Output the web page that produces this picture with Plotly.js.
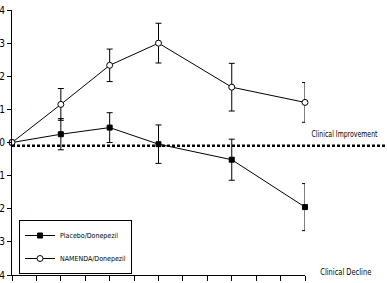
<!DOCTYPE html>
<html>
<head>
<meta charset="utf-8">
<script src="https://cdn.plot.ly/plotly-3.0.1.min.js"></script>
<style>html,body{margin:0;padding:0;background:#fff;}</style>
</head>
<body>
<div id="chart" style="width:387px;height:283px;"></div>
<script>
var weeks = [0, 4, 8, 12, 18, 24];
var placeboValues = [0, 0.25, 0.45, -0.05, -0.52, -1.95];
var placeboErrors = [0, 0.47, 0.45, 0.58, 0.62, 0.71];
var namendaValues = [0, 1.15, 2.33, 3.0, 1.67, 1.21];
var namendaErrors = [0, 0.48, 0.49, 0.6, 0.72, 0.6];
var seriesNames = ["Placebo/Donepezil", "NAMENDA/Donepezil"];
var yTicks = [-4, -3, -2, -1, 0, 1, 2, 3, 4];
var baselineValue = -0.1;
var noteImprovement = "Clinical Improvement";
var noteDecline = "Clinical Decline";

var FONT = "Liberation Sans Narrow, DejaVu Sans Condensed, Arial Narrow, sans-serif";

var traces = [
  {
    x: weeks, y: placeboValues, name: seriesNames[0], type: "scatter", mode: "lines+markers",
    line: {color: "#000", width: 1},
    marker: {symbol: "square", size: 5, color: "#000", line: {color: "#000", width: 1}},
    error_y: {type: "data", array: placeboErrors, visible: true, color: "#000", thickness: 1, width: 3},
    cliponaxis: false, legendgroup: "a"
  },
  {
    x: weeks, y: namendaValues, name: seriesNames[1], type: "scatter", mode: "lines+markers",
    line: {color: "#000", width: 1},
    marker: {symbol: "circle", size: 6, color: "#fff", line: {color: "#000", width: 1}},
    error_y: {type: "data", array: namendaErrors, visible: true, color: "#000", thickness: 1, width: 3},
    cliponaxis: false, legendgroup: "b"
  }
];

var layout = {
  width: 387, height: 283,
  margin: {l: 12, r: 82, t: 10, b: 8, pad: 0},
  paper_bgcolor: "#fff", plot_bgcolor: "#fff",
  font: {family: FONT, size: 10, color: "#000"},
  showlegend: true,
  legend: {
    x: 0.024, y: 0.2075, xanchor: "left", yanchor: "top",
    bgcolor: "#fff", bordercolor: "#000", borderwidth: 1,
    font: {family: FONT, size: 7, color: "#000"},
    traceorder: "grouped", tracegroupgap: 4, itemwidth: 30
  },
  xaxis: {
    range: [0, 24], tickmode: "linear", tick0: 0, dtick: 2,
    showticklabels: false, ticks: "outside", ticklen: 5, tickcolor: "#000",
    showline: true, linecolor: "#000", linewidth: 1,
    showgrid: false, zeroline: false, fixedrange: true
  },
  yaxis: {
    range: [-4, 4], tickmode: "array", tickvals: yTicks, ticktext: yTicks.map(String),
    ticks: "outside", ticklen: 4, tickcolor: "#000",
    showline: true, linecolor: "#000", linewidth: 1,
    showgrid: false, zeroline: false, fixedrange: true,
    tickfont: {family: FONT, size: 10, color: "#000"}
  },
  shapes: [
    {type: "line", xref: "paper", yref: "y", x0: 0, x1: 1.28, y0: baselineValue, y1: baselineValue,
     line: {color: "#000", width: 2.5, dash: "3px,2px"}}
  ],
  annotations: [
    {text: noteImprovement, xref: "paper", yref: "y", x: 1.1365, y: 0.26, xanchor: "center", yanchor: "middle",
     showarrow: false, font: {family: FONT, size: 9.5, color: "#000"}},
    {text: noteDecline, xref: "paper", yref: "y", x: 1.1416, y: -3.88, xanchor: "center", yanchor: "middle",
     showarrow: false, font: {family: FONT, size: 9.5, color: "#000"}}
  ]
};

var targetWidths = {};
targetWidths[noteImprovement] = 66;
targetWidths[noteDecline] = 51;

Plotly.newPlot("chart", traces, layout, {staticPlot: true, displayModeBar: false}).then(function (gd) {
  gd.querySelectorAll(".annotation-text").forEach(function (t) {
    var w = targetWidths[t.textContent];
    if (w) {
      t.setAttribute("textLength", w);
      t.setAttribute("lengthAdjust", "spacingAndGlyphs");
    }
  });
});
</script>
</body>
</html>
